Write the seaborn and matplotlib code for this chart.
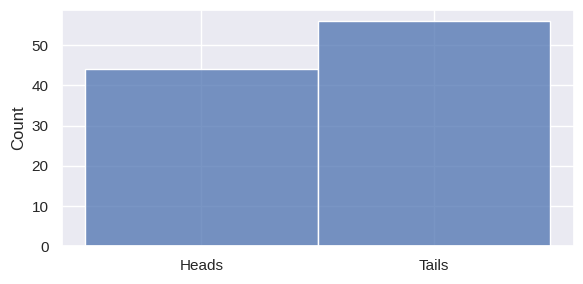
import matplotlib
matplotlib.use("Agg")
import matplotlib.pyplot as plt
import seaborn as sns
import pandas as pd

categories = ["Heads", "Tails"]
counts = [44, 56]

sns.set_theme(style="darkgrid")
plt.rcParams['font.family'] = ['Liberation Sans', 'DejaVu Sans']

df = pd.DataFrame({"side": categories, "n": counts})

fig, ax = plt.subplots(figsize=(5.83, 2.84), dpi=100)
sns.histplot(data=df, x="side", weights="n", discrete=True, ax=ax)
ax.set_xlabel("")
ax.set_ylabel("Count")
fig.subplots_adjust(left=0.106, right=0.984, top=0.965, bottom=0.133)
fig.savefig("out.png", dpi=100)
